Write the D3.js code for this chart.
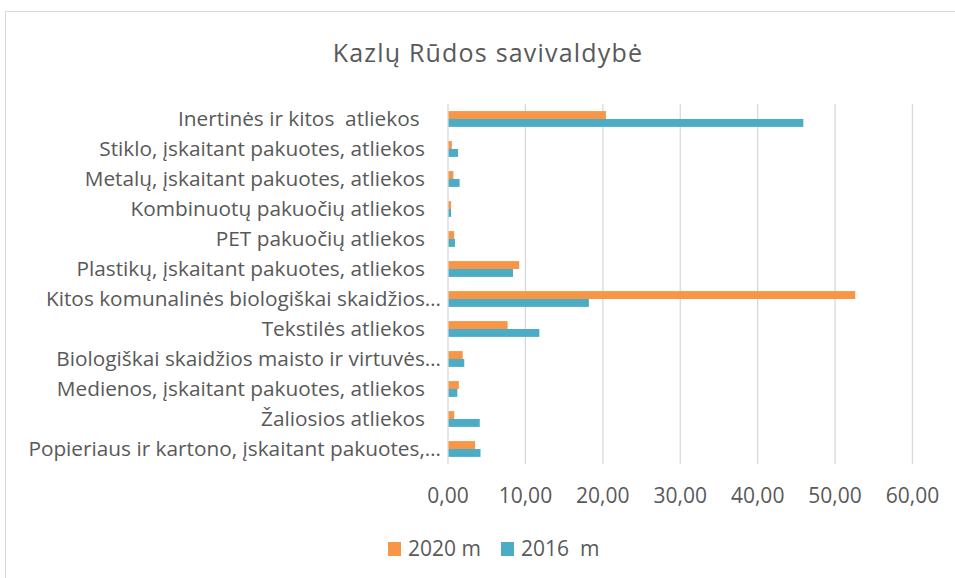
<!DOCTYPE html>
<html lang="lt">
<head>
<meta charset="utf-8">
<title>Kazlų Rūdos savivaldybė</title>
<script src="https://d3js.org/d3.v7.min.js"></script>
<style>
  body { margin: 0; background: #fff; }
  text { font-family: "Open Sans", sans-serif; fill: #595959; }
</style>
</head>
<body>
<script>
// data, top to bottom as shown
var categories = [
  "Inertinės ir kitos  atliekos ",
  "Stiklo, įskaitant pakuotes, atliekos",
  "Metalų, įskaitant pakuotes, atliekos",
  "Kombinuotų pakuočių atliekos",
  "PET pakuočių atliekos",
  "Plastikų, įskaitant pakuotes, atliekos",
  "Kitos komunalinės biologiškai skaidžios…",
  "Tekstilės atliekos",
  "Biologiškai skaidžios maisto ir virtuvės…",
  "Medienos, įskaitant pakuotes, atliekos",
  "Žaliosios atliekos",
  "Popieriaus ir kartono, įskaitant pakuotes,…"
];
var values2020 = [20.4, 0.5, 0.7, 0.4, 0.8, 9.2, 52.6, 7.7, 1.9, 1.4, 0.8, 3.5];
var values2016 = [45.9, 1.3, 1.5, 0.4, 0.9, 8.4, 18.2, 11.8, 2.1, 1.2, 4.1, 4.2];
var seriesNames = ["2020 m", "2016  m"];
var seriesColors = ["#F79646", "#4BACC6"];
var xTicks = [0, 10, 20, 30, 40, 50, 60];

var w = 955, h = 578;
var svg = d3.select("body").append("svg")
    .attr("width", w)
    .attr("height", h);

// chart frame
svg.append("rect")
    .attr("x", 5.5).attr("y", 11.5)
    .attr("width", 1000).attr("height", 700)
    .attr("fill", "none")
    .attr("stroke", "#D9D9D9");

svg.append("text")
    .attr("x", 488).attr("y", 62)
    .attr("text-anchor", "middle")
    .style("font-size", "25px")
    .style("letter-spacing", "1.2px")
    .text("Kazlų Rūdos savivaldybė");

var pLeft = 448, pRight = 912.5, pTop = 104, pBottom = 464;

var x = d3.scaleLinear().domain([0, 60]).range([pLeft, pRight]);
var y = d3.scaleBand().domain(categories).range([pTop, pBottom]);
var inner = d3.scaleBand().domain(seriesNames).range([0, y.bandwidth()]).paddingOuter(0.9);

// gridlines
svg.append("g").selectAll("line")
    .data(xTicks.slice(1))
    .join("line")
    .attr("x1", d => x(d)).attr("x2", d => x(d))
    .attr("y1", pTop).attr("y2", pBottom)
    .attr("stroke", "#D9D9D9").attr("stroke-width", 1.3);

// bars
var rows = categories.map((c, i) => ({cat: c, vals: [values2020[i], values2016[i]]}));
var groups = svg.append("g").selectAll("g")
    .data(rows)
    .join("g")
    .attr("transform", d => "translate(0," + y(d.cat) + ")");

groups.selectAll("rect")
    .data(d => d.vals.map((v, j) => ({name: seriesNames[j], v: v, c: seriesColors[j]})))
    .join("rect")
    .attr("x", x(0))
    .attr("y", d => inner(d.name))
    .attr("width", d => x(d.v) - x(0))
    .attr("height", inner.bandwidth())
    .attr("fill", d => d.c);

// vertical axis line
svg.append("line")
    .attr("x1", x(0)).attr("x2", x(0))
    .attr("y1", pTop).attr("y2", pBottom)
    .attr("stroke", "#D9D9D9").attr("stroke-width", 1.3);

// category labels (truncated ones reach closer to the axis)
svg.append("g").selectAll("text")
    .data(categories)
    .join("text")
    .attr("x", d => d.endsWith("…") ? x(0) - 7 : x(0) - 23)
    .attr("y", d => y(d) + y.bandwidth() / 2)
    .attr("dy", "0.35em")
    .attr("text-anchor", "end")
    .attr("xml:space", "preserve")
    .style("font-size", "20.8px")
    .text(d => d);

// x tick labels
var fmt = d => d.toFixed(2).replace(".", ",");
svg.append("g").selectAll("text")
    .data(xTicks)
    .join("text")
    .attr("x", d => x(d))
    .attr("y", 503)
    .attr("text-anchor", "middle")
    .style("font-size", "21px")
    .text(fmt);

// legend
var lx = [388, 501];
var leg = svg.append("g").selectAll("g")
    .data(seriesNames)
    .join("g")
    .attr("transform", (d, i) => "translate(" + lx[i] + ",542)");
leg.append("rect")
    .attr("width", 13).attr("height", 14)
    .attr("fill", (d, i) => seriesColors[i]);
leg.append("text")
    .attr("x", 20).attr("y", 14)
    .attr("xml:space", "preserve")
    .style("font-size", "21px")
    .text(d => d);
</script>
</body>
</html>
